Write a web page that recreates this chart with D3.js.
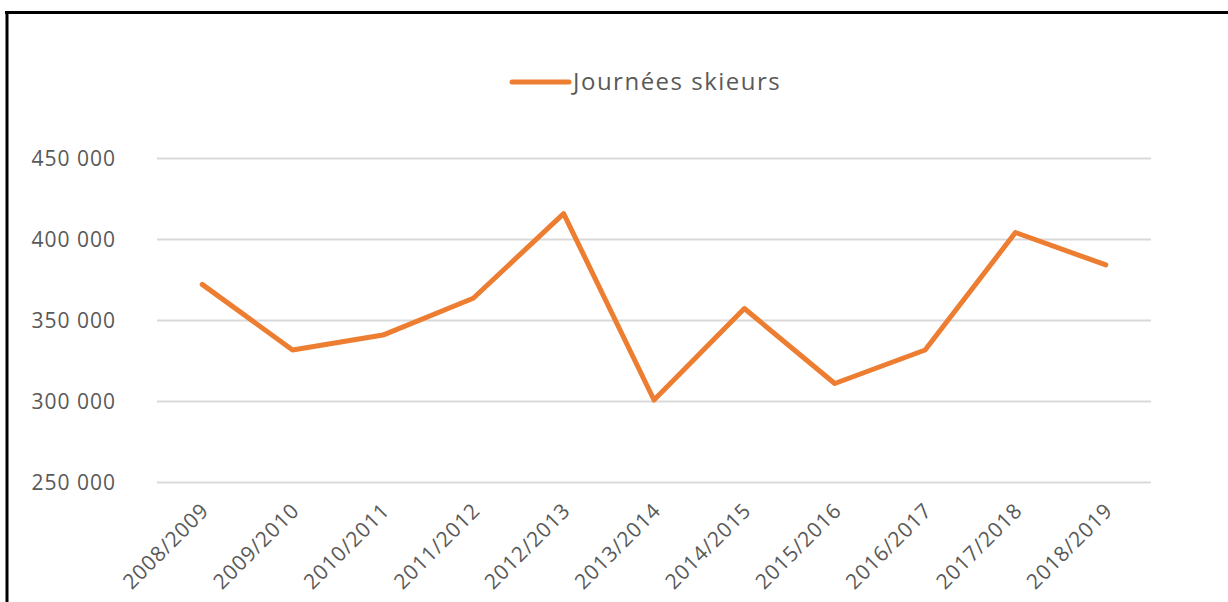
<!DOCTYPE html>
<html>
<head>
<meta charset="utf-8">
<script src="https://cdn.jsdelivr.net/npm/d3@7"></script>
<style>
  body { margin: 0; background: #fff; }
</style>
</head>
<body>
<div id="chart"></div>
<script>
// data
var seasons = ["2008/2009", "2009/2010", "2010/2011", "2011/2012", "2012/2013", "2013/2014",
               "2014/2015", "2015/2016", "2016/2017", "2017/2018", "2018/2019"];
var journees = [372000, 331500, 340700, 363400, 415700, 300600, 357100, 310800, 331500, 404000, 384000];
var yTicks = [250000, 300000, 350000, 400000, 450000];
var seriesName = "Journées skieurs";

var W = 1228, H = 602;
var plot = {left: 157, right: 1151, top: 158, bottom: 482};
var textColour = "#595959", lineColour = "#ED7D31", gridColour = "#d9d9d9";
var font = "'Open Sans', sans-serif";

var fr = d3.formatLocale({decimal: ",", thousands: " ", grouping: [3], currency: ["", " €"]});
var fmt = fr.format(",");

var xScale = d3.scaleBand()
	.domain(seasons)
	.range([plot.left, plot.right]);

var yScale = d3.scaleLinear()
	.domain([250000, 450000])
	.range([plot.bottom, plot.top]);

var svg = d3.select("#chart")
	.append("svg")
	.attr("width", W)
	.attr("height", H);

// frame (only top and left edges visible)
svg.append("line")
	.attr("x1", 5).attr("x2", W)
	.attr("y1", 12.5).attr("y2", 12.5)
	.attr("stroke", "#000").attr("stroke-width", 3);
svg.append("line")
	.attr("x1", 7).attr("x2", 7)
	.attr("y1", 11).attr("y2", H)
	.attr("stroke", "#000").attr("stroke-width", 3);

// gridlines + y labels
var yAxis = d3.axisLeft(yScale)
	.tickValues(yTicks)
	.tickSize(-(plot.right - plot.left))
	.tickPadding(41)
	.tickFormat(fmt);

var gy = svg.append("g")
	.attr("transform", "translate(" + plot.left + ",0)")
	.call(yAxis);
gy.select(".domain").remove();
gy.selectAll(".tick line")
	.attr("stroke", gridColour)
	.attr("stroke-width", 2);
gy.selectAll(".tick text")
	.attr("fill", textColour)
	.attr("font-family", font)
	.attr("font-size", "21px")
	.attr("letter-spacing", "1px")
	.attr("dy", "0.35em");

// x labels, rotated
var xAxis = d3.axisBottom(xScale).tickSize(0).tickPadding(0);
var gx = svg.append("g")
	.attr("transform", "translate(0," + plot.bottom + ")")
	.call(xAxis);
gx.select(".domain").remove();
gx.selectAll(".tick text")
	.attr("fill", textColour)
	.attr("font-family", font)
	.attr("font-size", "21px")
	.attr("letter-spacing", "0.8px")
	.attr("text-anchor", "end")
	.attr("y", 0)
	.attr("dy", 0)
	.attr("transform", "translate(8,30) rotate(-45)");

// line
var line = d3.line()
	.x(function(d, i) { return xScale(seasons[i]) + xScale.bandwidth() / 2; })
	.y(function(d) { return yScale(d); });

svg.append("path")
	.datum(journees)
	.attr("d", line)
	.attr("fill", "none")
	.attr("stroke", lineColour)
	.attr("stroke-width", 5)
	.attr("stroke-linejoin", "round")
	.attr("stroke-linecap", "round");

// legend
var legend = svg.append("g").attr("transform", "translate(512,82)");
legend.append("line")
	.attr("x1", 0).attr("x2", 57)
	.attr("stroke", lineColour)
	.attr("stroke-width", 5)
	.attr("stroke-linecap", "round");
legend.append("text")
	.attr("x", 61)
	.attr("dy", "0.35em")
	.attr("fill", textColour)
	.attr("font-family", font)
	.attr("font-size", "24px")
	.attr("letter-spacing", "1.5px")
	.text(seriesName);
</script>
</body>
</html>
